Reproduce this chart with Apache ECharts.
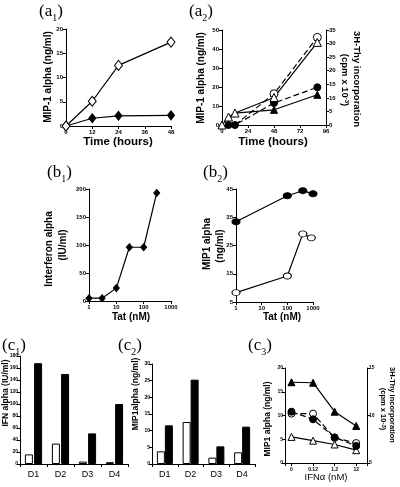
<!DOCTYPE html>
<html><head><meta charset="utf-8">
<script src="https://cdn.jsdelivr.net/npm/echarts@6/dist/echarts.min.js"></script>
<style>html,body{margin:0;padding:0;background:#fff}#c{width:400px;height:487px}</style>
</head><body><div id="c"></div>
<script>
// ---- data ----
// (a1) MIP-1 alpha vs time
const a1Hours = [0, 12, 24, 48];
const a1Open = [0, 5.1, 12.5, 17.3];
const a1Filled = [0, 1.6, 2.1, 2.2];
// (a2) MIP-1 alpha (left, ng/ml) and 3H-Thy (right, cpm x 10^-3)
const a2TriOpenHours = [0, 6, 12, 48, 88];
const a2TriOpen = [0, 4.2, 6.3, 14.5, 43.5];
const a2TriFilledHours = [12, 48, 88];
const a2TriFilled = [6.3, 8.0, 15.9];
const a2CircFilledHours = [6, 12, 48, 88];
const a2CircFilled = [0, 0, 8.1, 13.9];
const a2CircOpenHours = [12, 48, 88];
const a2CircOpen = [0, 11.5, 32.3];
// (b1) Interferon alpha vs Tat
const b1Tat = [1, 3, 10, 30, 100, 300];
const b1IFN = [5, 5, 23, 96, 96, 193];
// (b2) MIP1 alpha vs Tat
const b2TatFilled = [1, 100, 400, 1000];
const b2Filled = [33.4, 42.6, 44.4, 43.3];
const b2TatOpen = [1, 100, 400, 860];
const b2Open = [8.3, 14.2, 29.1, 27.7];
// (c1) / (c2) donors
const donors = ['D1', 'D2', 'D3', 'D4'];
const c1Open = [16, 34, 4, 3];
const c1Filled = [168, 150, 51, 100];
const c2Open = [3.8, 12.6, 1.9, 3.5];
const c2Filled = [11.6, 25.3, 5.3, 11.2];
// (c3) vs IFN alpha dose
const c3Doses = ['0', '0.12', '1.2', '12'];
const c3TriFilled = [17.0, 16.9, 10.8, 7.8];   // left axis
const c3TriOpen = [5.5, 4.7, 3.9, 2.7];        // left axis
const c3CircFilled = [10.4, 9.6, 7.7, 6.8];    // right axis
const c3CircOpen = [10.2, 10.2, 7.65, 7.1];    // right axis

// ---- helpers ----
const SANS = 'Liberation Sans, Arial, sans-serif';
const SERIF = 'Liberation Serif, Times New Roman, serif';
function ax(extra, label) {
  return Object.assign({
    axisLine: {show: true, onZero: false, lineStyle: {color: '#000', width: 1}},
    axisTick: {show: true, inside: false, length: 3, lineStyle: {color: '#000', width: 1}},
    axisLabel: Object.assign({color: '#000', fontSize: 6, fontWeight: 'bold', fontFamily: SANS, margin: 3}, label || {}),
    splitLine: {show: false}
  }, extra);
}
const SMALL = {fontSize: 5, margin: 2};
const plain = v => String(v);
const OPEN = {color: '#fff', borderColor: '#000', borderWidth: 1};
const FILL = {color: '#000', borderColor: '#000', borderWidth: 1};
function line(xi, yi, xs, ys, symbol, size, item, dash, hideFirst) {
  return {
    type: 'line', xAxisIndex: xi, yAxisIndex: yi,
    data: xs.map((x, i) => (hideFirst && i === 0) ? {value: [x, ys[i]], symbol: 'none'} : [x, ys[i]]),
    symbol: symbol, symbolSize: size, showAllSymbol: true,
    itemStyle: item,
    lineStyle: {color: '#000', width: 1.2, type: dash ? [6, 3] : 'solid'},
    animation: false, silent: true
  };
}
function bar(xi, yi, ys, item, gap) {
  return {type: 'bar', xAxisIndex: xi, yAxisIndex: yi, data: ys, barWidth: 8, barGap: gap,
    itemStyle: item, animation: false, silent: true};
}
function txt(x, y, text, size, opts) {
  opts = opts || {};
  return {type: 'text', x: x, y: y, rotation: opts.rot || 0,
    style: {text: text, fontSize: size, fontFamily: opts.family || SANS, fontWeight: opts.weight || 'bold',
      fill: '#000', align: 'center', verticalAlign: 'middle', rich: opts.rich}};
}
function panel(x, y, letter, num) {
  return {type: 'text', x: x, y: y,
    style: {text: '(' + letter + '{s|' + num + '})', fontSize: 17, fontFamily: SERIF, fill: '#000',
      align: 'left', verticalAlign: 'middle', lineHeight: 22,
      rich: {s: {fontSize: 10, fontFamily: SERIF, fill: '#000', verticalAlign: 'bottom', lineHeight: 10}}}};
}
const supRich = {p: {fontSize: 6, fontWeight: 'bold', fontFamily: SANS, fill: '#000', verticalAlign: 'top', lineHeight: 6}};

const option = {
  backgroundColor: '#fff',
  grid: [
    {left: 66, top: 29, width: 105, height: 97},    // a1
    {left: 222, top: 30, width: 104, height: 95},   // a2
    {left: 89, top: 189, width: 82, height: 112},   // b1
    {left: 236, top: 189, width: 77, height: 113},  // b2
    {left: 20, top: 356, width: 108, height: 108},  // c1
    {left: 152, top: 364, width: 103, height: 100}, // c2
    {left: 285, top: 368, width: 82, height: 95}    // c3
  ],
  xAxis: [
    ax({gridIndex: 0, type: 'value', min: 0, max: 48, interval: 12}),
    ax({gridIndex: 1, type: 'value', min: 0, max: 96, interval: 24}),
    ax({gridIndex: 2, type: 'log', logBase: 10, min: 1, max: 1000}, {formatter: plain}),
    ax({gridIndex: 3, type: 'log', logBase: 10, min: 1, max: 1000}, {formatter: plain}),
    ax({gridIndex: 4, type: 'category', data: donors}, {fontSize: 9, fontWeight: 'normal', margin: 6}),
    ax({gridIndex: 5, type: 'category', data: donors}, {fontSize: 9, fontWeight: 'normal', margin: 6}),
    ax({gridIndex: 6, type: 'value', min: -0.3, max: 3.5},
      {fontSize: 5, margin: 4, customValues: [0, 1, 2, 3], formatter: v => c3Doses[Math.round(v)]})
  ],
  yAxis: [
    ax({gridIndex: 0, type: 'value', min: 0, max: 20, interval: 5}),
    ax({gridIndex: 1, type: 'value', min: 0, max: 50, interval: 10}),
    ax({gridIndex: 1, type: 'value', min: 0, max: 35, interval: 5, position: 'right'}),
    ax({gridIndex: 2, type: 'value', min: 0, max: 200, interval: 50}),
    ax({gridIndex: 3, type: 'value', min: 5, max: 45, interval: 10}),
    ax({gridIndex: 4, type: 'value', min: 0, max: 180, interval: 20}, SMALL),
    ax({gridIndex: 5, type: 'value', min: 0, max: 30, interval: 5}, SMALL),
    ax({gridIndex: 6, type: 'value', min: 0, max: 20, interval: 5}, SMALL),
    ax({gridIndex: 6, type: 'value', min: 5, max: 15, interval: 5, position: 'right'}, SMALL)
  ],
  series: [
    // a1
    line(0, 0, a1Hours, a1Filled, 'diamond', [7, 9], FILL),
    line(0, 0, a1Hours, a1Open, 'diamond', [8, 10], OPEN),
    // a2
    line(1, 2, a2CircOpenHours, a2CircOpen, 'circle', 8, OPEN, true, true),
    line(1, 2, a2CircFilledHours, a2CircFilled, 'circle', 7, FILL, true),
    line(1, 1, a2TriFilledHours, a2TriFilled, 'triangle', 7, FILL, false, true),
    line(1, 1, a2TriOpenHours, a2TriOpen, 'triangle', 8, OPEN),
    // b1
    line(2, 3, b1Tat, b1IFN, 'diamond', [6, 7], FILL),
    // b2
    line(3, 4, b2TatFilled, b2Filled, 'circle', [8, 6], FILL),
    line(3, 4, b2TatOpen, b2Open, 'circle', [8, 6], OPEN),
    // c1
    bar(4, 5, c1Open, OPEN, '15%'),
    bar(4, 5, c1Filled, FILL, '15%'),
    // c2
    bar(5, 6, c2Open, OPEN, '0%'),
    bar(5, 6, c2Filled, FILL, '0%'),
    // c3
    line(6, 7, [0, 1, 2, 3], c3TriFilled, 'triangle', 7, FILL),
    line(6, 7, [0, 1, 2, 3], c3TriOpen, 'triangle', 7, OPEN),
    line(6, 8, [0, 1, 2, 3], c3CircOpen, 'circle', 7, OPEN, true),
    line(6, 8, [0, 1, 2, 3], c3CircFilled, 'circle', 7, FILL, true)
  ],
  graphic: [
    panel(39, 12, 'a', '1'),
    panel(189, 12, 'a', '2'),
    panel(47, 173, 'b', '1'),
    panel(203, 173, 'b', '2'),
    panel(2, 346, 'c', '1'),
    panel(118, 346, 'c', '2'),
    panel(248, 346, 'c', '3'),
    // a1
    txt(48, 77, 'MIP-1 alpha (ng/ml)', 10, {rot: Math.PI / 2}),
    txt(118, 142, 'Time (hours)', 11.5),
    // a2
    txt(201, 78, 'MIP-1 alpha (ng/ml)', 10, {rot: Math.PI / 2}),
    txt(273, 142, 'Time (hours)', 11.5),
    txt(357, 79, '3H-Thy incorporation', 9.5, {rot: -Math.PI / 2}),
    txt(345, 80, '(cpm x 10{p|-3})', 9.5, {rot: -Math.PI / 2, rich: supRich}),
    // b1
    txt(49, 249, 'Interferon alpha', 10, {rot: Math.PI / 2}),
    txt(63, 245, '(IU/ml)', 10, {rot: Math.PI / 2}),
    txt(131, 317, 'Tat (nM)', 10),
    // b2
    txt(207, 244, 'MIP1 alpha', 10, {rot: Math.PI / 2}),
    txt(220, 246, '(ng/ml)', 10, {rot: Math.PI / 2}),
    txt(282, 317, 'Tat (nM)', 10),
    // c1, c2
    txt(6, 393, 'IFN alpha (IU/ml)', 8.5, {rot: Math.PI / 2}),
    txt(136, 394, 'MIP1alpha (ng/ml)', 8.5, {rot: Math.PI / 2}),
    // c3
    txt(268, 419, 'MIP1 alpha (ng/ml)', 8.5, {rot: Math.PI / 2}),
    txt(326, 477, 'IFNα (nM)', 9.5, {weight: 'normal'}),
    txt(392, 405, '3H-Thy incorporation', 7.5, {rot: -Math.PI / 2}),
    txt(383, 409, '(cpm x 10{p|-3})', 7.5, {rot: -Math.PI / 2, rich: supRich})
  ]
};
const chart = echarts.init(document.getElementById('c'), null, {renderer: 'canvas', width: 400, height: 487});
chart.setOption(option);
</script></body></html>
